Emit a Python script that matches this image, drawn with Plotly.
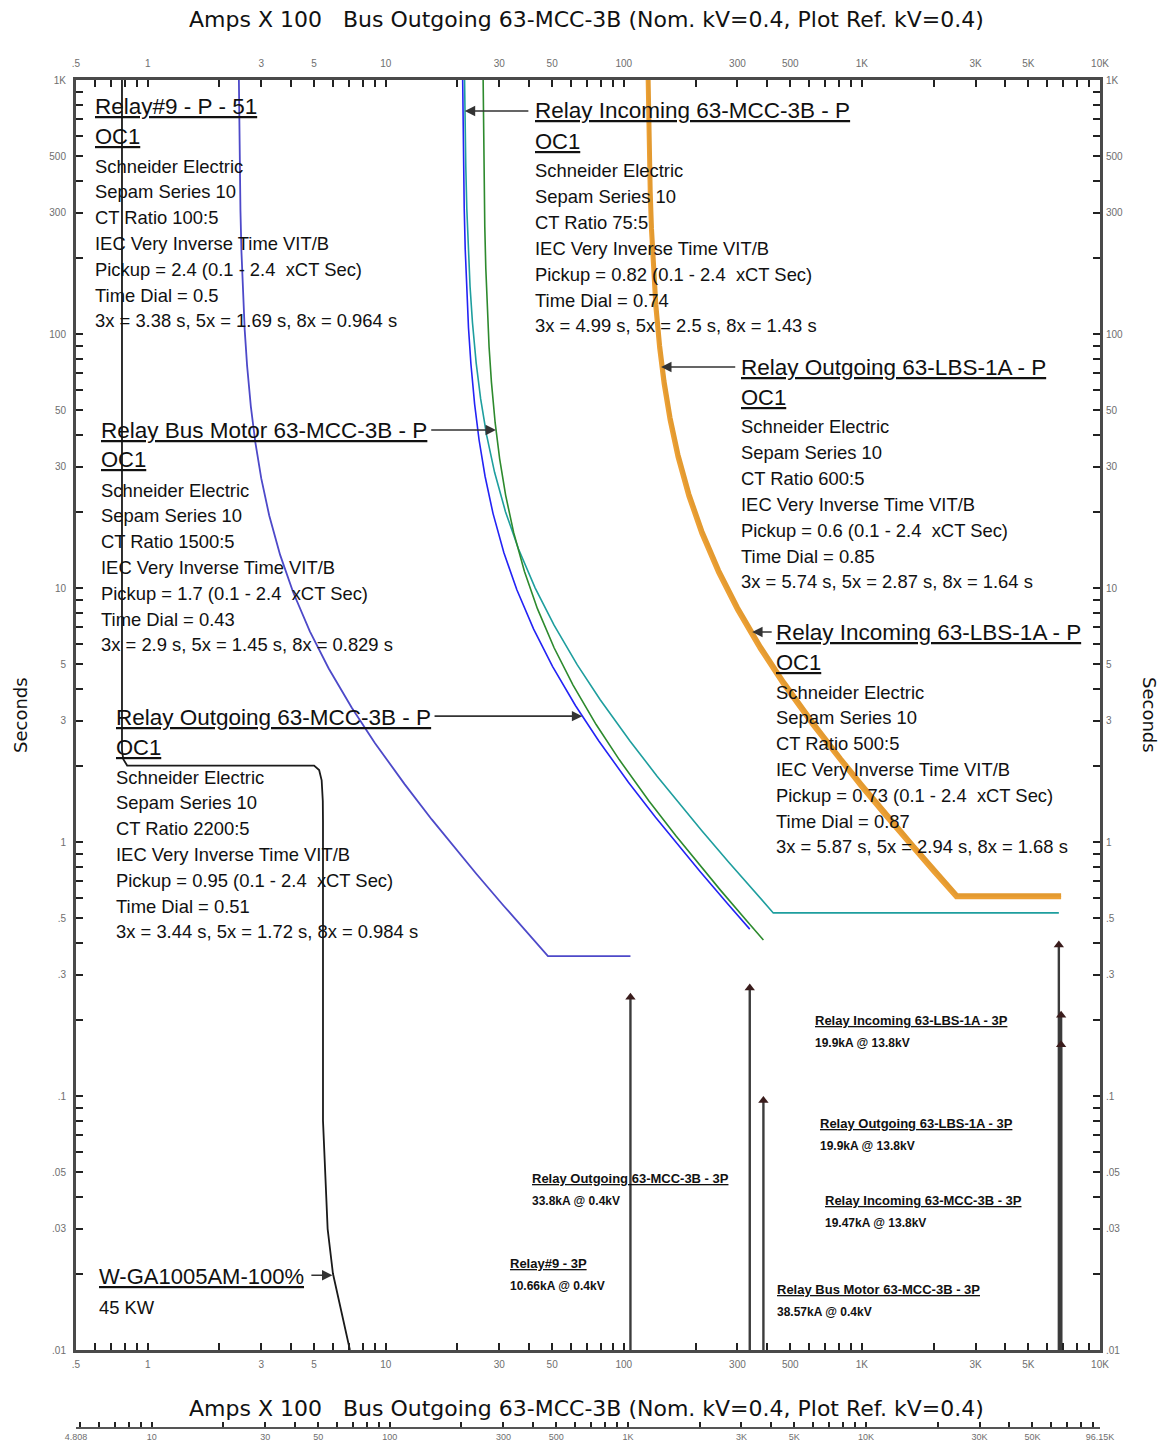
import numpy as np
import plotly.graph_objects as go

# ---------------------------------------------------------------------------
# Time-current characteristic points (Amps X 100 at 0.4 kV, seconds)
# ---------------------------------------------------------------------------
relay9_amps = [2.4162, 2.424, 2.436, 2.4528, 2.4768, 2.508, 2.556, 2.616, 2.712, 2.832,
               3.0, 3.24, 3.6, 4.08, 4.8, 5.76, 7.2, 9.0, 12.0, 15.6, 19.2, 24.0, 31.2,
               38.4, 48.0, 106.6]
relay9_sec = [1000, 675, 450, 306.8, 210.9, 150, 103.8, 75, 51.9, 37.5,
              27, 19.29, 13.5, 9.64, 6.75, 4.82, 3.38, 2.455, 1.69, 1.227, 0.964, 0.75,
              0.5625, 0.45, 0.3553, 0.3553]

out_mcc_amps = [21.044, 21.109, 21.2135, 21.36, 21.569, 21.84, 22.26, 22.78, 23.62, 24.66,
                26.125, 28.215, 31.35, 35.53, 41.8, 50.16, 62.7, 78.375, 104.5, 135.85,
                167.2, 209.0, 271.7, 338.0]
out_mcc_sec = [1000, 688.5, 459, 312.95, 215.2, 153, 105.9, 76.5, 52.96, 38.25,
               27.54, 19.67, 13.77, 9.836, 6.885, 4.918, 3.44, 2.504, 1.72, 1.252,
               0.984, 0.765, 0.574, 0.454]

inc_mcc_amps = [21.432, 21.538, 21.687, 21.899, 22.175, 22.599, 23.13, 23.979, 25.04,
                26.525, 28.647, 31.83, 36.074, 42.44, 50.928, 63.66, 79.575, 106.1,
                137.93, 169.76, 212.2, 275.86, 339.52, 424.4, 6717]
inc_mcc_sec = [1000, 666, 454.1, 312.2, 222, 153.7, 111, 76.85, 55.5,
               39.96, 28.54, 19.98, 14.27, 9.99, 7.136, 4.99, 3.633, 2.5,
               1.816, 1.43, 1.11, 0.8325, 0.666, 0.5258, 0.5258]

bus_motor_amps = [25.648, 25.755, 25.8825, 26.061, 26.316, 26.6475, 27.1575, 27.795,
                  28.815, 30.09, 31.875, 34.425, 38.25, 43.35, 51.0, 61.2, 76.5, 95.625,
                  127.5, 165.75, 204.0, 255.0, 331.5, 385.7]
bus_motor_sec = [1000, 580.5, 387, 263.9, 181.4, 129, 89.31, 64.5,
                 44.65, 32.25, 23.22, 16.59, 11.61, 8.293, 5.805, 4.146, 2.9, 2.111,
                 1.45, 1.055, 0.829, 0.645, 0.484, 0.411]

out_lbs_amps = [125.625, 126.063, 126.932, 128.174, 129.789, 132.273, 135.378, 140.346,
                146.556, 155.25, 167.67, 186.3, 211.14, 248.4, 298.08, 372.6, 465.75,
                621.0, 807.3, 993.6, 1242.0, 1614.6, 1987.2, 2484.0, 6865]
out_lbs_sec = [1000, 765, 521.6, 358.6, 255, 176.5, 127.5, 88.27,
               63.75, 45.9, 32.79, 22.95, 16.39, 11.475, 8.196, 5.74, 4.173,
               2.87, 2.086, 1.64, 1.275, 0.956, 0.765, 0.604, 0.604]

inc_lbs_amps = [127.404, 127.814, 128.695, 129.955, 131.592, 134.11, 137.258, 142.295,
                148.59, 157.406, 170.0, 188.888, 214.07, 251.85, 302.22, 377.775, 472.22,
                629.625, 818.51, 1007.4, 1259.25, 1637.0, 2014.8, 2518.5, 6865]
inc_lbs_sec = [1000, 783, 533.9, 367, 261, 180.7, 130.5, 90.35,
               65.25, 46.98, 33.56, 23.49, 16.78, 11.745, 8.389, 5.87, 4.271,
               2.94, 2.135, 1.68, 1.305, 0.979, 0.783, 0.618, 0.618]

# Motor starting profile W-GA1005AM (45 kW)
motor_amps = [0.78, 0.78, 0.79, 0.82, 5.0, 5.25, 5.38, 5.44, 5.45, 5.45, 5.7, 6.0, 7.07]
motor_sec = [1000, 2.3, 2.12, 2.0, 2.0, 1.92, 1.75, 1.45, 1.2, 0.08, 0.03, 0.02, 0.01]

# Three-phase fault currents (Amps X 100) and marker times (s)
fault_amps = [106.6, 338.0, 385.7, 6717, 6865, 6865]
fault_tip_sec = [0.245, 0.266, 0.096, 0.393, 0.208, 0.159]

# ---------------------------------------------------------------------------
fig = go.Figure()

curves = [
    (relay9_amps, relay9_sec, "#4d49c9", 1.8),
    (out_mcc_amps, out_mcc_sec, "#2323f5", 1.6),
    (inc_mcc_amps, inc_mcc_sec, "#1e9e9e", 1.6),
    (bus_motor_amps, bus_motor_sec, "#2d8a2d", 1.6),
    (out_lbs_amps, out_lbs_sec, "#eda034", 3.5),
    (inc_lbs_amps, inc_lbs_sec, "#e39a30", 3.5),
    (motor_amps, motor_sec, "#1a1a1a", 1.8),
]
for xs, ys, col, w in curves:
    fig.add_trace(go.Scatter(x=xs, y=ys, mode="lines", line=dict(color=col, width=w),
                             hoverinfo="skip", showlegend=False))

for fa, ft in zip(fault_amps, fault_tip_sec):
    fig.add_trace(go.Scatter(x=[fa, fa], y=[0.01, ft], mode="lines",
                             line=dict(color="#3c3c3c", width=2.4),
                             hoverinfo="skip", showlegend=False))
fig.add_trace(go.Scatter(x=fault_amps, y=fault_tip_sec, mode="markers",
                         marker=dict(symbol="triangle-up", size=9, color="#3a1c1c"),
                         hoverinfo="skip", showlegend=False))

# placeholders so the secondary scales are laid out
for xa, ya in [("x2", "y"), ("x", "y2"), ("x3", "y")]:
    fig.add_trace(go.Scatter(x=[10], y=[1], xaxis=xa, yaxis=ya, mode="markers",
                             marker=dict(opacity=0), hoverinfo="skip", showlegend=False))

# ---------------------------------------------------------------------------
# Axis ticks
def decade_ticks(lo, hi):
    vals = []
    for e in range(-3, 6):
        for m in range(1, 10):
            v = round(m * 10 ** e, 6)
            if lo - 1e-9 <= v <= hi + 1e-9:
                vals.append(v)
    return vals

x_lab = {0.5: ".5", 1: "1", 3: "3", 5: "5", 10: "10", 30: "30", 50: "50", 100: "100",
         300: "300", 500: "500", 1000: "1K", 3000: "3K", 5000: "5K", 10000: "10K"}
y_lab = {0.01: ".01", 0.03: ".03", 0.05: ".05", 0.1: ".1", 0.3: ".3", 0.5: ".5", 1: "1",
         3: "3", 5: "5", 10: "10", 30: "30", 50: "50", 100: "100", 300: "300", 500: "500",
         1000: "1K"}
b_lab = {4.808: "4.808", 10: "10", 30: "30", 50: "50", 100: "100", 300: "300", 500: "500",
         1000: "1K", 3000: "3K", 5000: "5K", 10000: "10K", 30000: "30K", 50000: "50K",
         96160: "96.15K"}

x_vals = decade_ticks(0.5, 10000)
y_vals = decade_ticks(0.01, 1000)
b_vals = [4.808] + decade_ticks(5, 90000) + [96160]

def lab(vals, d):
    out = []
    for v in vals:
        key = next((k for k in d if abs(k - v) < 1e-9 * max(1, k)), None)
        out.append(d[key] if key is not None else "")
    return out

tick_font = dict(family="Liberation Sans", size=10, color="#6e6e6e")
common = dict(type="log", showgrid=False, zeroline=False, ticks="inside", ticklen=7,
              tickwidth=1.5, tickcolor="#222", tickfont=tick_font, automargin=False)

YDOM0 = (1428 - 1350) / 1348

fig.update_layout(
    width=1167, height=1447,
    margin=dict(l=76, r=67, t=80, b=19, autoexpand=False),
    paper_bgcolor="white", plot_bgcolor="white", showlegend=False,
    xaxis=dict(range=[np.log10(0.5), 4], tickvals=x_vals, ticktext=lab(x_vals, x_lab),
               showline=True, linewidth=3, linecolor="#4a4a4a", mirror=True,
               anchor="y", ticklabelstandoff=3, **common),
    xaxis2=dict(range=[np.log10(0.5), 4], tickvals=x_vals, ticktext=lab(x_vals, x_lab),
                overlaying="x", side="top", anchor="y", showline=False,
                ticklabelstandoff=10, **common),
    yaxis=dict(range=[-2, 3], domain=[YDOM0, 1], tickvals=y_vals,
               ticktext=lab(y_vals, y_lab), showline=True, linewidth=3,
               linecolor="#4a4a4a", mirror=True, anchor="x", ticklabelstandoff=5,
               **common),
    yaxis2=dict(range=[-2, 3], tickvals=y_vals, ticktext=lab(y_vals, y_lab),
                overlaying="y", side="right", anchor="x", showline=False,
                ticklabelstandoff=5, **common),
    xaxis3=dict(type="log", range=[np.log10(4.808), np.log10(96160)], tickvals=b_vals,
                ticktext=lab(b_vals, b_lab), overlaying="x", anchor="free", position=0,
                side="bottom", showline=True, linewidth=2, linecolor="#555",
                showgrid=False, zeroline=False, ticks="inside", ticklen=5, tickwidth=1.5,
                tickcolor="#222", automargin=False,
                tickfont=dict(family="Liberation Sans", size=9, color="#6e6e6e")),
)

# ---------------------------------------------------------------------------
# Text
FONT = "Liberation Sans"

def P(xp, yp):
    return (xp - 76) / 1024, (1428 - yp) / 1348

annotations = []

def text(xp, yp, s, size, anchor="left", angle=0, family=FONT, color="#111"):
    px, py = P(xp, yp)
    annotations.append(dict(x=px, y=py, xref="paper", yref="paper", text=s,
                            showarrow=False, xanchor=anchor, yanchor="middle",
                            textangle=angle, font=dict(family=family, size=size,
                                                       color=color)))

title = "Amps X 100   Bus Outgoing 63-MCC-3B (Nom. kV=0.4, Plot Ref. kV=0.4)"
text(586, 20, title, 22, anchor="center", family="DejaVu Sans")
text(586, 1408, title, 22, anchor="center", family="DejaVu Sans")
text(20, 715, "Seconds", 18, anchor="center", angle=-90, family="DejaVu Sans")
text(1150, 715, "Seconds", 18, anchor="center", angle=90, family="DejaVu Sans")

blocks = [
    (93, 106, "Relay#9 - P - 51", ["CT Ratio 100:5", "Pickup = 2.4 (0.1 - 2.4  xCT Sec)",
                                    "Time Dial = 0.5",
                                    "3x = 3.38 s, 5x = 1.69 s, 8x = 0.964 s"]),
    (533, 111, "Relay Incoming 63-MCC-3B - P", ["CT Ratio 75:5",
                                                "Pickup = 0.82 (0.1 - 2.4  xCT Sec)",
                                                "Time Dial = 0.74",
                                                "3x = 4.99 s, 5x = 2.5 s, 8x = 1.43 s"]),
    (739, 367, "Relay Outgoing 63-LBS-1A - P", ["CT Ratio 600:5",
                                               "Pickup = 0.6 (0.1 - 2.4  xCT Sec)",
                                               "Time Dial = 0.85",
                                               "3x = 5.74 s, 5x = 2.87 s, 8x = 1.64 s"]),
    (99, 430, "Relay Bus Motor 63-MCC-3B - P", ["CT Ratio 1500:5",
                                               "Pickup = 1.7 (0.1 - 2.4  xCT Sec)",
                                               "Time Dial = 0.43",
                                               "3x = 2.9 s, 5x = 1.45 s, 8x = 0.829 s"]),
    (774, 632, "Relay Incoming 63-LBS-1A - P", ["CT Ratio 500:5",
                                               "Pickup = 0.73 (0.1 - 2.4  xCT Sec)",
                                               "Time Dial = 0.87",
                                               "3x = 5.87 s, 5x = 2.94 s, 8x = 1.68 s"]),
    (114, 717, "Relay Outgoing 63-MCC-3B - P", ["CT Ratio 2200:5",
                                               "Pickup = 0.95 (0.1 - 2.4  xCT Sec)",
                                               "Time Dial = 0.51",
                                               "3x = 3.44 s, 5x = 1.72 s, 8x = 0.984 s"]),
]
for bx, by, head, (ct, pick, td, pts) in blocks:
    text(bx, by, "<u>" + head + "</u>", 22.5)
    text(bx, by + 30, "<u>OC1</u>", 22)
    body = ["Schneider Electric", "Sepam Series 10", ct,
            "IEC Very Inverse Time VIT/B", pick, td, pts]
    for i, line in enumerate(body):
        text(bx, by + 60 + i * 25.8, line, 18.4)

text(97, 1276, "<u>W-GA1005AM-100%</u>", 22)
text(97, 1307, "45 KW", 18.4)

fault_labels = [
    (813, 1020, "Relay Incoming 63-LBS-1A - 3P", "19.9kA @ 13.8kV"),
    (818, 1123, "Relay Outgoing 63-LBS-1A - 3P", "19.9kA @ 13.8kV"),
    (823, 1200, "Relay Incoming 63-MCC-3B - 3P", "19.47kA @ 13.8kV"),
    (530, 1178, "Relay Outgoing 63-MCC-3B - 3P", "33.8kA @ 0.4kV"),
    (508, 1263, "Relay#9 - 3P", "10.66kA @ 0.4kV"),
    (775, 1289, "Relay Bus Motor 63-MCC-3B - 3P", "38.57kA @ 0.4kV"),
]
for fx, fy, a, b in fault_labels:
    text(fx, fy, "<u><b>" + a + "</b></u>", 13)
    text(fx, fy + 23, "<b>" + b + "</b>", 12)

# Pointers from labels to curves: (head amps, head sec, tail amps)
pointers = [
    (21.48, 755, 40.3),
    (29.03, 41.9, 15.3),
    (66.9, 3.13, 15.8),
    (143.4, 74.1, 298),
    (346, 6.71, 424),
    (5.97, 0.0197, 4.8),
]
for hx, hy, tx in pointers:
    annotations.append(dict(x=np.log10(hx), y=np.log10(hy), ax=np.log10(tx),
                            ay=np.log10(hy), xref="x", yref="y", axref="x", ayref="y",
                            text="", showarrow=True, arrowhead=2, arrowsize=1.3,
                            arrowwidth=1.6, arrowcolor="#333"))

fig.update_layout(annotations=annotations)
fig.write_html("out.html")
